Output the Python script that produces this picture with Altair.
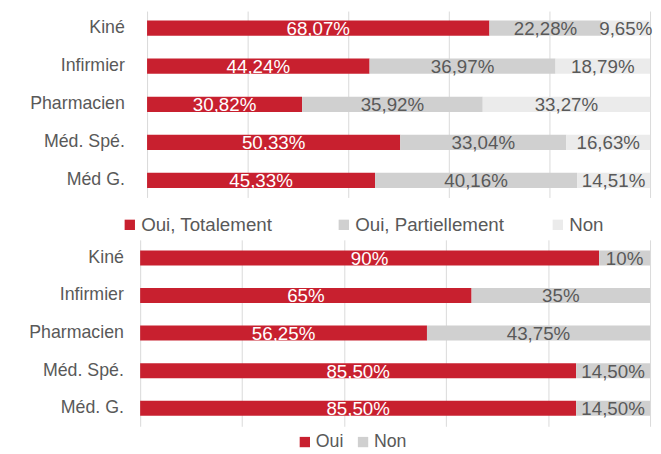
import altair as alt
import pandas as pd

# ---- data ----
top_categories = ["Kiné", "Infirmier", "Pharmacien", "Méd. Spé.", "Méd G."]
top_series = ["Oui, Totalement", "Oui, Partiellement", "Non"]
top_totalement = [68.07, 44.24, 30.82, 50.33, 45.33]
top_partiellement = [22.28, 36.97, 35.92, 33.04, 40.16]
top_non = [9.65, 18.79, 33.27, 16.63, 14.51]

bottom_categories = ["Kiné", "Infirmier", "Pharmacien", "Méd. Spé.", "Méd. G."]
bottom_series = ["Oui", "Non"]
bottom_oui = [90, 65, 56.25, 85.5, 85.5]
bottom_non = [10, 35, 43.75, 14.5, 14.5]

FONT = "Liberation Sans"
RED = "#C8202F"
GREY = "#D0D0D0"
LIGHT = "#EBEBEB"
TXT = "#595959"


def fmt(v):
    if float(v).is_integer():
        return f"{int(v)}%"
    return f"{v:.2f}".replace(".", ",") + "%"


def long_df(cats, names, values):
    rows = []
    for i, (name, vals) in enumerate(zip(names, values)):
        for c, v in zip(cats, vals):
            rows.append({"cat": c, "serie": name, "ordre": i, "val": v, "label": fmt(v)})
    return pd.DataFrame(rows)


def panel(df, cats, names, colors, xrange, label_pad, height, po,
          legend_x, legend_y, col_pad, grid_align, legend_font):
    base = alt.Chart(df).transform_stack(
        stack="val", groupby=["cat"], as_=["x0", "x1"],
        sort=[alt.SortField("ordre", order="ascending")],
    ).transform_calculate(mid="(datum.x0 + datum.x1) / 2")

    y = alt.Y(
        "cat:N", sort=cats, title=None,
        scale=alt.Scale(paddingInner=0.6, paddingOuter=po),
        axis=alt.Axis(domain=False, ticks=False, labelPadding=label_pad,
                      labelFontSize=18, labelColor=TXT, labelFont=FONT,
                      grid=False),
    )
    x = alt.X(
        "x0:Q", title=None,
        scale=alt.Scale(domain=[0, 100], range=xrange, nice=False, zero=False),
        axis=alt.Axis(values=[0, 20, 40, 60, 80, 100], labels=False, ticks=False,
                      domain=False, grid=True, gridColor="#D9D9D9", gridWidth=1),
    )
    bars = base.mark_bar().encode(
        x=x, x2="x1:Q", y=y,
        color=alt.Color(
            "serie:N", sort=names,
            scale=alt.Scale(domain=names, range=colors),
            legend=alt.Legend(
                orient="none", legendX=legend_x, legendY=legend_y,
                direction="horizontal", title=None, symbolType="square",
                symbolSize=110, symbolStrokeWidth=0, labelFontSize=legend_font,
                labelColor=TXT, labelFont=FONT, labelOffset=2,
                columnPadding=col_pad, padding=0, symbolOpacity=1,
                gridAlign=grid_align,
            ),
        ),
        order=alt.Order("ordre:Q"),
    )
    text = base.mark_text(fontSize=19, font=FONT, baseline="middle", dy=1).encode(
        x="mid:Q",
        y=alt.Y("cat:N", sort=cats),
        text="label:N",
        color=alt.condition(alt.datum.ordre == 0, alt.value("white"), alt.value(TXT)),
    )
    return alt.layer(bars, text).properties(width=517, height=height)


top_df = long_df(top_categories, top_series, [top_totalement, top_partiellement, top_non])
bottom_df = long_df(bottom_categories, bottom_series, [bottom_oui, bottom_non])

top = panel(top_df, top_categories, top_series, [RED, GREY, LIGHT], [7, 517],
            16, 189, 0.25, -20, 207, 44, "all", 19)
bottom = panel(bottom_df, bottom_categories, bottom_series, [RED, GREY], [0, 517],
               17, 189, 0.28, 158, 196, 10, "each", 18)

chart = alt.vconcat(top, bottom, spacing=5).resolve_scale(
    color="independent", x="independent", y="independent"
).properties(
    padding={"left": 20, "top": 0, "right": 0, "bottom": 0}
).configure_view(stroke=None)

chart.save("out.html", embed_options={"renderer": "svg", "actions": False})
